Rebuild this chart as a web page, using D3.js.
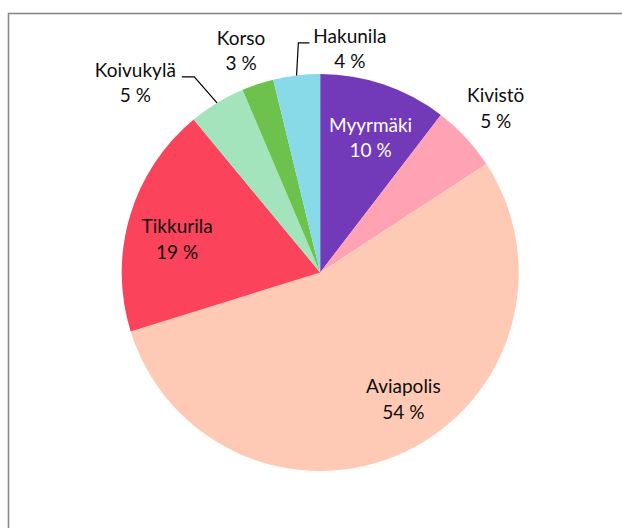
<!DOCTYPE html>
<html>
<head>
<meta charset="utf-8">
<script src="https://cdn.jsdelivr.net/npm/d3@7"></script>
<style>
  body { margin: 0; background: #fff; }
  text { font-family: Lato, "Open Sans", sans-serif; font-size: 19px; }
</style>
</head>
<body>
<svg id="chart"></svg>
<script>
// shares by area, clockwise from 12 o'clock
var areas  = ["Myyrmäki", "Kivistö", "Aviapolis", "Tikkurila", "Koivukylä", "Korso", "Hakunila"];
var shares = [10.4, 5.4, 54.4, 18.8, 4.6, 2.6, 3.8];
var colors = ["#7239b9", "#ffa3b4", "#ffcab5", "#fb445c", "#a4e4bc", "#6cc24c", "#88dae8"];

// where Excel put each label: shift from slice mid angle (deg), distance as share of radius
var labelShift  = [1.8, -0.2, -8, -3.5, -13, -1.3, 14.4];
var labelRadius = [0.724, 1.21, 0.765, 0.74, 1.333, 1.185, 1.135];
var leaderFor   = {"Koivukylä": "right", "Hakunila": "left"};

var screen = {width: 622, height: 528};
var center = {x: 320.2, y: 272.5};
var radius = 198.5;

var svg = d3.select("#chart")
    .attr("width", screen.width)
    .attr("height", screen.height);

// chart area frame, runs off the right and bottom of the picture
svg.append("rect")
    .attr("x", 8.5)
    .attr("y", 13.5)
    .attr("width", 700)
    .attr("height", 600)
    .attr("fill", "none")
    .attr("stroke", "#8a8a8a")
    .attr("stroke-width", 1.6);

var rows = areas.map(function(name, i) { return {name: name, value: shares[i], i: i}; });
var total = d3.sum(shares);

var pie = d3.pie()
    .sort(null)
    .value(function(d) { return d.value; });

var arc = d3.arc()
    .innerRadius(0)
    .outerRadius(radius);

var g = d3.select("#chart")
    .append("g")
    .attr("transform", "translate(" + center.x + "," + center.y + ")");

var slices = pie(rows);

g.selectAll("path")
    .data(slices)
    .enter()
    .append("path")
    .attr("d", arc)
    .attr("fill", function(d) { return colors[d.data.i]; });

var polar = function(angle, r) {
    return [r * Math.sin(angle), -r * Math.cos(angle)];
};

var labels = g.selectAll("text.label")
    .data(slices)
    .enter()
    .append("text")
    .classed("label", true)
    .attr("text-anchor", "middle")
    .attr("fill", function(d) { return d.data.i == 0 ? "#ffffff" : "#0d0d0d"; })
    .each(function(d) {
        var mid = (d.startAngle + d.endAngle) / 2 + labelShift[d.data.i] * Math.PI / 180;
        var p = polar(mid, labelRadius[d.data.i] * radius);
        var t = d3.select(this);
        t.append("tspan")
            .attr("x", p[0])
            .attr("y", p[1] - 6.25)
            .text(d.data.name);
        t.append("tspan")
            .attr("x", p[0])
            .attr("y", p[1] + 19.25)
            .text(Math.round(d.data.value / total * 100) + " %");
        d.labelPos = p;
    });

// leader lines for the two labels that sit away from their slices
labels.each(function(d) {
    var side = leaderFor[d.data.name];
    if (!side) { return; }
    var first = d3.select(this).select("tspan");
    var w = first.node().getComputedTextLength();
    var baseY = d.labelPos[1] - 6.25;
    var edge = polar((d.startAngle + d.endAngle) / 2, radius);
    var end, elbow;
    if (side == "right") {
        end = [d.labelPos[0] + w / 2 + 6, baseY];
        elbow = [end[0] + 12.5, baseY];
    } else {
        end = [d.labelPos[0] - w / 2 - 4, baseY];
        elbow = [end[0] - 11, baseY];
    }
    g.append("path")
        .attr("d", d3.line()([end, elbow, edge]))
        .attr("fill", "none")
        .attr("stroke", "#000")
        .attr("stroke-width", 1.2);
});
</script>
</body>
</html>
